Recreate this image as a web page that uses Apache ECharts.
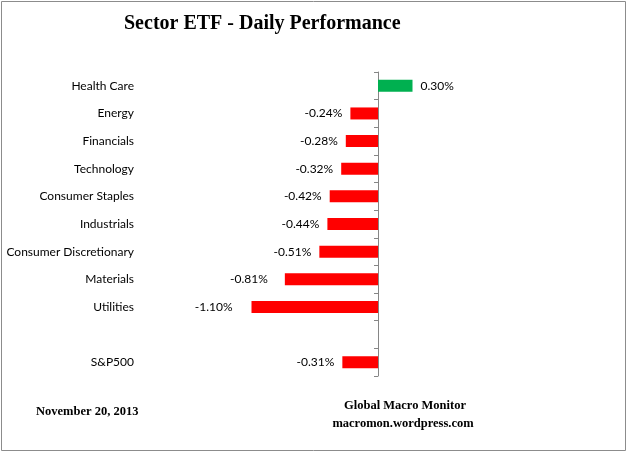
<!DOCTYPE html>
<html><head><meta charset="utf-8">
<script src="https://cdn.jsdelivr.net/npm/echarts@6/dist/echarts.min.js"></script>
<style>html,body{margin:0;padding:0;background:#fff}#c{width:628px;height:453px}</style>
</head><body><div id="c"></div>
<script>
const categories = ['Health Care','Energy','Financials','Technology','Consumer Staples','Industrials','Consumer Discretionary','Materials','Utilities','','S&P500'];
const values = [0.30,-0.24,-0.28,-0.32,-0.42,-0.44,-0.51,-0.81,-1.10,null,-0.31];
const titleText = 'Sector ETF - Daily Performance';
const dateText = 'November 20, 2013';
const sourceLines = ['Global Macro Monitor','macromon.wordpress.com'];

// label gaps as placed in the original picture (style only)
const wideGap = {'Materials': 17, 'Utilities': 19};

const chart = echarts.init(document.getElementById('c'), null, {renderer:'canvas'});
const data = values.map((v, i) => v === null ? '-' : {
  value: v,
  itemStyle: {color: v >= 0 ? '#00B050' : '#FF0000'},
  label: {position: v >= 0 ? 'right' : 'left', distance: wideGap[categories[i]] || 8}
});
chart.setOption({
  animation: false,
  backgroundColor: '#fff',
  grid: {left: 240, right: 628-447, top: 72, bottom: 77},
  xAxis: {type:'value', min:-1.2, max:0.6, show:false, splitLine:{show:false}},
  yAxis: [
    {type:'category', data:categories, inverse:true, position:'left',
     axisLine:{show:false, onZero:false}, axisTick:{show:false},
     axisLabel:{margin:106, color:'#000', fontFamily:'Lato', fontSize:12}},
    {type:'category', data:categories, inverse:true, position:'left',
     axisLine:{show:true, onZero:true, lineStyle:{color:'#868686', width:1}},
     axisTick:{show:true, length:4, lineStyle:{color:'#868686'}},
     axisLabel:{show:false}}
  ],
  series: [{
    type:'bar', yAxisIndex:0, data:data, barWidth:12,
    label:{show:true, distance:8, color:'#000', fontFamily:'Lato', fontSize:12,
      formatter: p => p.value.toFixed(2) + '%'}
  }],
  graphic: [
    {type:'rect', shape:{x:1.5,y:1.5,width:624,height:449}, style:{fill:null, stroke:'#8c8c8c', lineWidth:1}, silent:true},
    {type:'text', left:124, top:14, style:{text:titleText, font:'bold 20px "Liberation Serif"', fill:'#000'}},
    {type:'text', left:36, top:405, style:{text:dateText, font:'bold 12.5px "Liberation Serif"', fill:'#000'}},
    {type:'text', x:405, y:399, style:{text:sourceLines[0], font:'bold 12.5px "Liberation Serif"', fill:'#000', align:'center'}},
    {type:'text', x:403, y:417, style:{text:sourceLines[1], font:'bold 12.5px "Liberation Serif"', fill:'#000', align:'center'}}
  ]
});
</script></body></html>
